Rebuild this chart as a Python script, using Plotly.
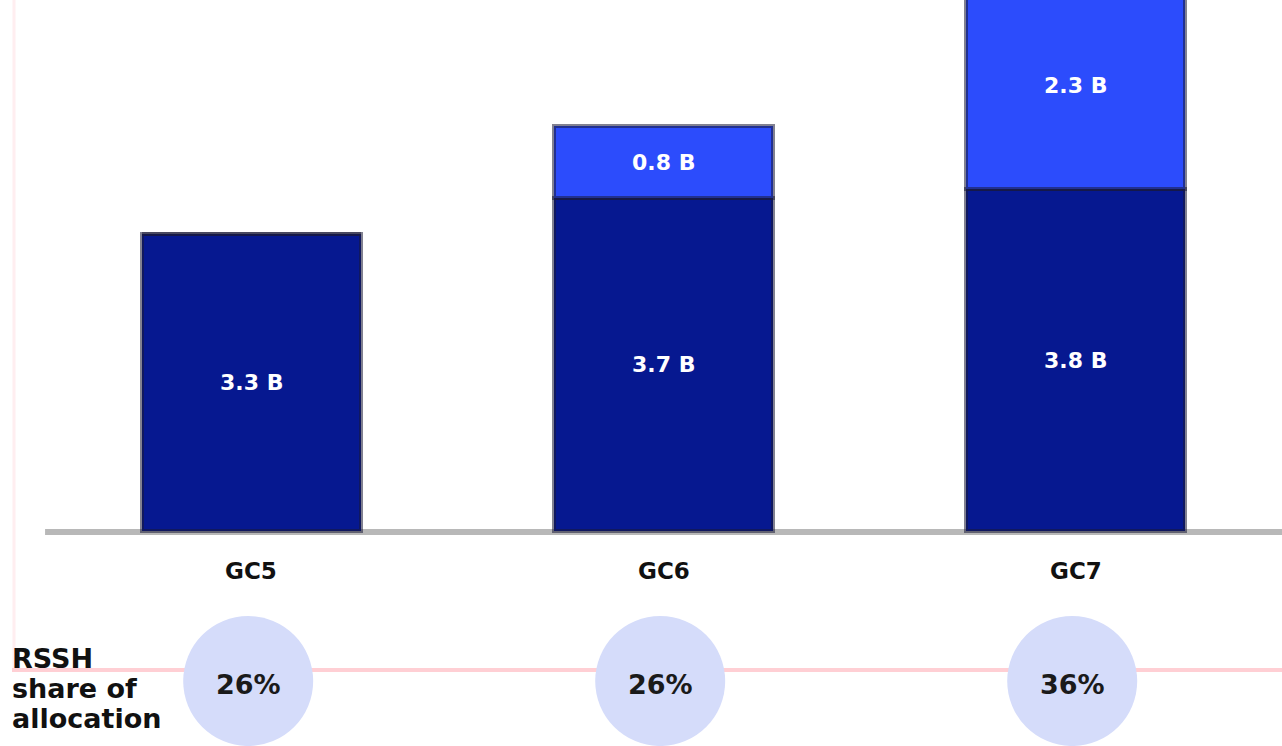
import plotly.graph_objects as go

categories = ["GC5", "GC6", "GC7"]
base_values = [3.3, 3.7, 3.8]
extra_values = [0, 0.8, 2.3]
rssh_share = [26, 26, 36]
row_label = ["RSSH", "share of", "allocation"]

NAVY = "#061890"
BLUE = "#2c4cfc"
CIRCLE = "#d5dcfa"
PINK = "#ffcfd4"
FONT = "DejaVu Sans"

fig = go.Figure()
fig.add_trace(go.Bar(
    x=categories, y=base_values, width=0.53,
    marker=dict(color=NAVY, line=dict(color="rgba(25,25,55,0.55)", width=4)),
    showlegend=False, hoverinfo="skip",
))
fig.add_trace(go.Bar(
    x=categories, y=extra_values, width=0.53,
    marker=dict(color=BLUE, line=dict(color="rgba(25,25,55,0.55)", width=4)),
    showlegend=False, hoverinfo="skip",
))

shapes = []
shapes.append(dict(type="line", xref="paper", yref="y", x0=14/1282, x1=14/1282,
                   y0=5.9, y1=-1.544, line=dict(color="#ffeef0", width=3), layer="below"))
shapes.append(dict(type="line", xref="paper", yref="y", x0=12/1282, x1=1,
                   y0=-1.544, y1=-1.544, line=dict(color=PINK, width=4), layer="below"))
shapes.append(dict(type="line", xref="x", yref="y", x0=-0.501, x1=2.6,
                   y0=-0.012, y1=-0.012, line=dict(color="#b8b8b8", width=6), layer="below"))
rx, ry = 65/412, 65/90
for i, c in enumerate(categories):
    cx = i - 0.008
    cy = -1.667
    shapes.append(dict(type="circle", xref="x", yref="y", x0=cx-rx, x1=cx+rx,
                       y0=cy-ry, y1=cy+ry, fillcolor=CIRCLE, line=dict(width=0),
                       layer="below"))

annotations = []
for i, c in enumerate(categories):
    # segment labels
    annotations.append(dict(x=c, y=base_values[i] / 2, xref="x", yref="y",
                            text=f"<b>{base_values[i]} B</b>", showarrow=False,
                            font=dict(family=FONT, size=22, color="white")))
    if extra_values[i]:
        annotations.append(dict(x=c, y=base_values[i] + extra_values[i] / 2, xref="x", yref="y",
                                text=f"<b>{extra_values[i]} B</b>", showarrow=False,
                                font=dict(family=FONT, size=22, color="white")))
    annotations.append(dict(x=c, y=-0.444, xref="x", yref="y", text=f"<b>{c}</b>",
                            showarrow=False, font=dict(family=FONT, size=23, color="#111111")))
    annotations.append(dict(x=i - 0.008, y=-1.70, xref="x", yref="y", text=f"<b>{rssh_share[i]}%</b>",
                            showarrow=False, font=dict(family=FONT, size=27, color="#1a1a1a")))
for j, t in enumerate(row_label):
    annotations.append(dict(x=10/1282, y=-(658 + 30*j - 531)/90, xref="paper", yref="y",
                            xanchor="left", yanchor="middle", text=f"<b>{t}</b>",
                            showarrow=False, font=dict(family=FONT, size=27, color="#111111")))

fig.update_layout(
    barmode="stack", bargap=0,
    width=1282, height=746,
    margin=dict(l=0, r=0, t=0, b=0),
    paper_bgcolor="white", plot_bgcolor="white",
    xaxis=dict(type="category", range=[-0.6104, 2.5012], visible=False, fixedrange=True),
    yaxis=dict(range=[-(746-531)/90, 531/90], visible=False, fixedrange=True),
    shapes=shapes, annotations=annotations, showlegend=False,
)

fig.write_html("out.html")
